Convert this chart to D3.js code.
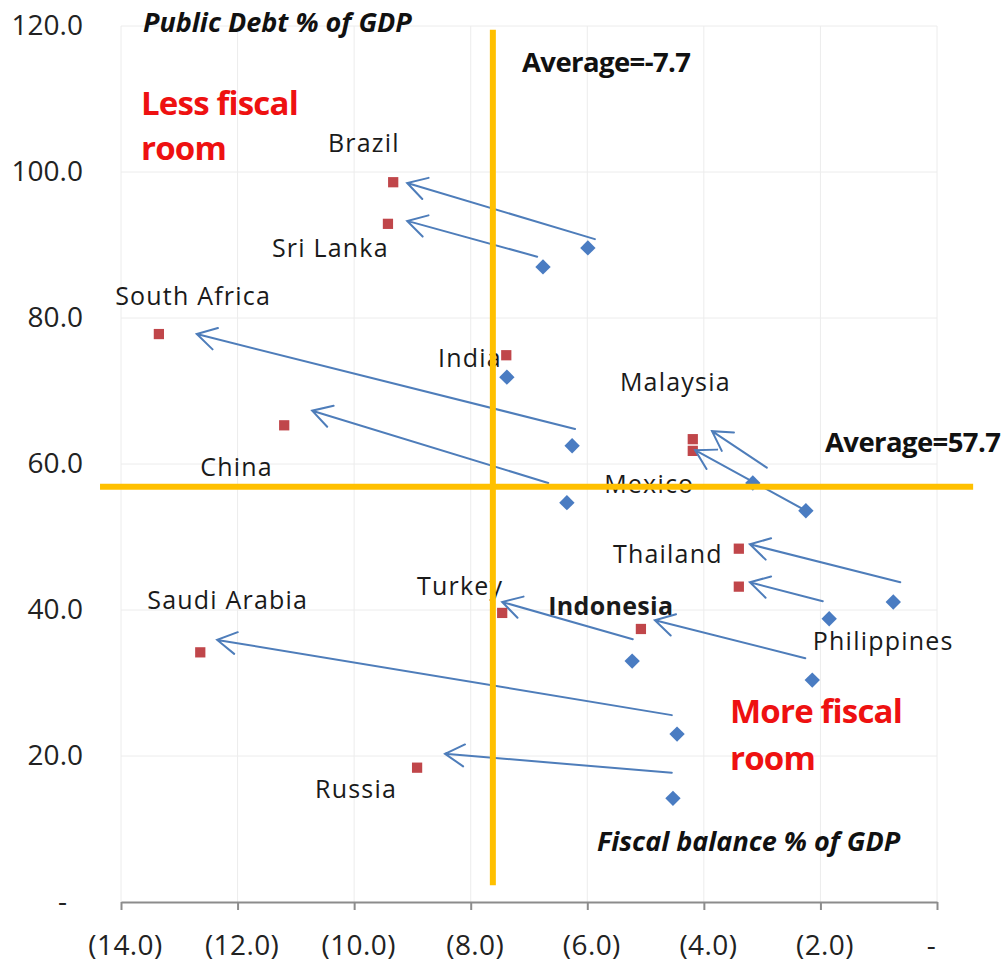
<!DOCTYPE html>
<html><head><meta charset="utf-8">
<script src="https://cdn.jsdelivr.net/npm/d3@7"></script>
<style>
html,body{margin:0;padding:0;background:#fff;}
svg{display:block;font-family:"Open Sans",sans-serif;}
</style></head>
<body>
<svg id="chart" width="1007" height="962"></svg>
<script>
// ---------- data ----------
const countries = ["Brazil","Sri Lanka","South Africa","India","China","Malaysia","Mexico","Thailand","Philippines","Indonesia","Turkey","Saudi Arabia","Russia"];
// starting point (blue diamonds)
const balanceStart = [-5.99,-6.76,-6.26,-7.38,-6.35,-3.16,-2.25,-0.75,-1.85,-2.14,-5.23,-4.46,-4.53];
const debtStart    = [89.6,87.0,62.5,71.9,54.7,57.4,53.6,41.1,38.8,30.4,33.0,23.0,14.2];
// end point (red squares)
const balanceEnd   = [-9.33,-9.42,-13.35,-7.39,-11.20,-4.19,-4.19,-3.40,-3.40,-5.08,-7.46,-12.64,-8.92];
const debtEnd      = [98.6,92.9,77.8,74.9,65.3,63.4,61.8,48.4,43.2,37.4,39.6,34.2,18.4];
// hand-drawn arrows (data units); null = no arrow
const arrowFromX = [-5.87,-6.86,-6.21,null,-6.67,-2.92,-2.25,-0.63,-1.96,-2.26,-5.22,-4.55,-4.55];
const arrowFromY = [90.8,88.4,64.8,null,57.4,59.5,53.6,43.8,41.2,33.4,36.0,25.6,17.7];
const arrowToX   = [-9.09,-9.09,-12.70,null,-10.72,-3.86,-4.15,-3.21,-3.21,-4.84,-7.46,-12.35,-8.44];
const arrowToY   = [98.5,93.3,77.8,null,67.3,64.5,61.9,49.0,43.8,38.6,41.1,35.9,20.3];
// averages
const avgBalanceLabel = "Average=-7.7";
const avgDebtLabel = "Average=57.7";
const avgBalanceLineX = -7.62;
const avgDebtLineY = 56.9;
// tick values
const xTicks = [-14,-12,-10,-8,-6,-4,-2,0];
const yTicks = [0,20,40,60,80,100,120];

// ---------- layout ----------
const W = 1007, H = 962;
const x = d3.scaleLinear().domain([-14,0]).range([121,937]);
const y = d3.scaleLinear().domain([0,120]).range([902,26]);
// label anchors (start, baseline) in data units
const labelX = [-10.45,-11.41,-14.10,-8.56,-12.64,-5.44,-5.71,-5.56,-2.13,-6.67,-8.92,-13.55,-10.67];
const labelY = [102.7,88.4,81.8,73.3,58.4,70.0,56.0,46.4,34.5,39.3,42.1,40.1,14.2];
const labelBold = countries.map(c => c === "Indonesia");

const svg = d3.select("#chart");
const fmt = v => v === 0 ? "-" : (v < 0 ? "(" + d3.format(".1f")(-v) + ")" : d3.format(".1f")(v));

// gridlines
const grid = svg.append("g");
grid.selectAll("line.h").data(yTicks.filter(d => d > 0)).join("line")
  .attr("x1", x(-14)).attr("x2", x(0)).attr("y1", d => y(d)).attr("y2", d => y(d))
  .attr("stroke", "#ececec").attr("stroke-width", 1);
grid.selectAll("line.v").data(xTicks).join("line")
  .attr("x1", d => x(d)).attr("x2", d => x(d)).attr("y1", y(0)).attr("y2", y(120))
  .attr("stroke", "#ececec").attr("stroke-width", 1);

// x axis
const xAxis = svg.append("g").attr("transform", `translate(0,${y(0)})`)
  .call(d3.axisBottom(x).tickValues(xTicks).tickFormat(fmt).tickSize(8).tickSizeOuter(0));
xAxis.select(".domain").attr("stroke", "#8c8c8c").attr("stroke-width", 2);
xAxis.selectAll(".tick line").attr("stroke", "#8c8c8c").attr("stroke-width", 2);
xAxis.selectAll(".tick text").attr("font-family", "Open Sans").attr("font-size", 28).attr("fill", "#222")
  .attr("letter-spacing", 0.4)
  .attr("dy", "1.5em").attr("dx", d => d === 0 ? -6 : 4);

// y axis (labels only)
const yAxis = svg.append("g").attr("transform", `translate(${x(-14)},0)`)
  .call(d3.axisLeft(y).tickValues(yTicks).tickFormat(fmt).tickSize(0).tickPadding(38));
yAxis.select(".domain").remove();
yAxis.selectAll(".tick text").attr("font-family", "Open Sans").attr("font-size", 28).attr("fill", "#222")
  .attr("dx", d => d === 0 ? -16 : 0);

// country labels
const idx = d3.range(countries.length);
svg.append("g").selectAll("text").data(idx).join("text")
  .attr("x", i => x(labelX[i])).attr("y", i => y(labelY[i]))
  .attr("font-size", 25)
  .attr("font-weight", i => labelBold[i] ? "bold" : "normal")
  .attr("letter-spacing", i => labelBold[i] ? 0.3 : 1.2)
  .attr("fill", "#1a1a1a")
  .text(i => countries[i]);

// markers
const diamond = d3.symbol().type(d3.symbolSquare).size(118);
svg.append("g").selectAll("path").data(idx).join("path")
  .attr("d", diamond)
  .attr("transform", i => `translate(${x(balanceStart[i])},${y(debtStart[i])}) rotate(45)`)
  .attr("fill", "#4A7CC2");
const square = d3.symbol().type(d3.symbolSquare).size(105);
svg.append("g").selectAll("path").data(idx).join("path")
  .attr("d", square)
  .attr("transform", i => `translate(${x(balanceEnd[i])},${y(debtEnd[i])})`)
  .attr("fill", "#C0464A");

// arrows
const arrowIdx = idx.filter(i => arrowFromX[i] !== null);
const ag = svg.append("g").attr("stroke", "#4E7DBA").attr("stroke-width", 2).attr("fill", "none").attr("stroke-linecap", "round");
ag.selectAll("path").data(arrowIdx).join("path")
  .attr("d", i => {
    const x1 = x(arrowFromX[i]), y1 = y(arrowFromY[i]);
    const x2 = x(arrowToX[i]), y2 = y(arrowToY[i]);
    const a = Math.atan2(y1 - y2, x1 - x2);
    const L = 22, s = Math.PI / 6;
    const p1 = [x2 + L * Math.cos(a - s), y2 + L * Math.sin(a - s)];
    const p2 = [x2 + L * Math.cos(a + s), y2 + L * Math.sin(a + s)];
    return `M${x1},${y1}L${x2},${y2}M${p1[0]},${p1[1]}L${x2},${y2}L${p2[0]},${p2[1]}`;
  });

// average lines
svg.append("line")
  .attr("x1", x(avgBalanceLineX)).attr("x2", x(avgBalanceLineX))
  .attr("y1", y(119.5)).attr("y2", y(2.3))
  .attr("stroke", "#FFC000").attr("stroke-width", 6);
svg.append("line")
  .attr("x1", x(-14.36)).attr("x2", x(0.62))
  .attr("y1", y(avgDebtLineY)).attr("y2", y(avgDebtLineY))
  .attr("stroke", "#FFC000").attr("stroke-width", 6);

// annotations
const ann = svg.append("g");
ann.append("text").attr("x", 143).attr("y", 32).attr("font-size", 27).attr("font-weight", "bold").attr("font-style", "italic").attr("fill", "#111").text("Public Debt % of GDP");
ann.append("text").attr("x", 597).attr("y", 851).attr("font-size", 27).attr("font-weight", "bold").attr("font-style", "italic").attr("fill", "#111").text("Fiscal balance % of GDP");
ann.append("text").attr("x", 522).attr("y", 72).attr("font-size", 27.5).attr("font-weight", "bold").attr("fill", "#111").attr("letter-spacing", -0.6).text(avgBalanceLabel);
ann.append("text").attr("x", 825).attr("y", 452).attr("font-size", 27.5).attr("font-weight", "bold").attr("fill", "#111").attr("letter-spacing", -0.6).text(avgDebtLabel);
ann.append("text").attr("x", 141).attr("y", 115).attr("font-size", 33).attr("font-weight", "bold").attr("fill", "#EE1111").attr("letter-spacing", -0.8).text("Less fiscal");
ann.append("text").attr("x", 141).attr("y", 160).attr("font-size", 33).attr("font-weight", "bold").attr("fill", "#EE1111").attr("letter-spacing", -0.8).text("room");
ann.append("text").attr("x", 730).attr("y", 723).attr("font-size", 33).attr("font-weight", "bold").attr("fill", "#EE1111").attr("letter-spacing", -0.8).text("More fiscal");
ann.append("text").attr("x", 730).attr("y", 770).attr("font-size", 33).attr("font-weight", "bold").attr("fill", "#EE1111").attr("letter-spacing", -0.8).text("room");
</script>
</body></html>
